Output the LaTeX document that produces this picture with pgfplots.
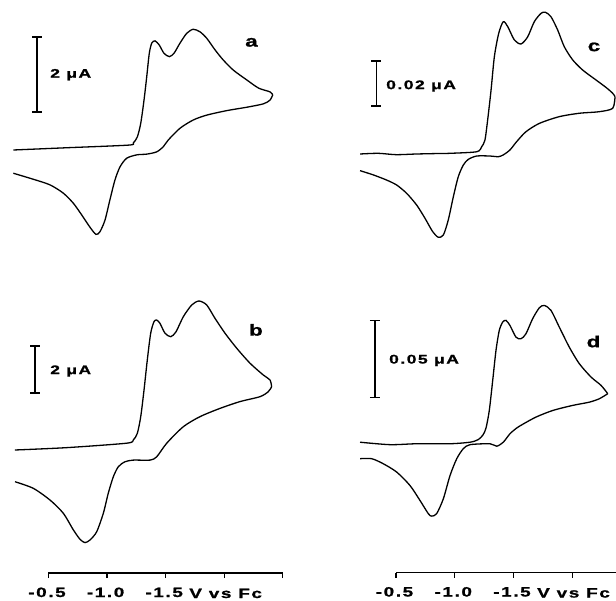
\documentclass[border=0pt]{standalone}
\usepackage{pgfplots}
\pgfplotsset{compat=1.18}
\usepackage{fontspec}
\setmainfont{Liberation Sans}
% wide, heavy, letter-spaced sans for all annotations
\newfontfamily\widesans[UprightFont=* Bold, FakeStretch=1.4, FakeBold=1.2, LetterSpace=12]{Liberation Sans}
\newcommand\ticklab{\widesans\fontsize{13.5}{15}\selectfont}
\newcommand\barlab{\widesans\fontsize{12.5}{14}\selectfont}
\newcommand\panellab{\widesans\fontsize{16}{18}\selectfont}

\tikzset{sbar/.style={black, line width=1.4pt}}
\pgfplotsset{
  cvbase/.style={scale only axis, clip=false, x dir=reverse},
  cvtop/.style={cvbase, axis lines=none},
  cvbottom/.style={cvbase,
    axis x line=bottom, axis y line=none,
    axis line style={-, line width=1.3pt},
    xtick={-0.5,-1,-1.5,-2,-2.5},
    xticklabels={-0.5,-1.0,-1.5,{},{}},
    tick align=outside, major tick length=5pt,
    xtick style={line width=1.2pt, black},
    xticklabel style={font=\ticklab, anchor=base, yshift=-19pt, xshift=-1.5pt},
    ytick=\empty},
  cv/.style={black, line width=1.3pt, smooth, tension=0.45, no marks},
}

\begin{document}
\begin{tikzpicture}[x=1pt,y=1pt]
\path[use as bounding box] (0,0) rectangle (616,600);

% ---------- a ----------
\begin{axis}[cvtop, at={(48.5pt,337.5pt)}, anchor=south west,
  width=234.4pt, height=262.5pt,
  xmin=-2.5, xmax=-0.5, ymin=-3.0, ymax=4.0]
\addplot[cv] coordinates {(-0.200,0) (-0.655,0.06) (-1.181,0.13) (-1.224,0.19) (-1.258,0.35) (-1.287,0.71) (-1.315,1.33) (-1.338,1.95) (-1.360,2.58) (-1.381,2.85) (-1.409,2.91) (-1.445,2.80) (-1.485,2.58) (-1.531,2.49) (-1.571,2.58) (-1.622,2.85) (-1.679,3.11) (-1.735,3.22) (-1.793,3.15) (-1.850,2.98) (-1.921,2.67) (-1.991,2.40) (-2.077,2.13) (-2.191,1.87) (-2.293,1.65) (-2.390,1.55) (-2.413,1.47)};
\addplot[cv] coordinates {(-2.413,1.47) (-2.390,1.33) (-2.333,1.23) (-2.191,1.14) (-2.021,1.05) (-1.850,0.93) (-1.735,0.80) (-1.622,0.58) (-1.523,0.27) (-1.480,0.09) (-1.423,-0.05) (-1.338,-0.11) (-1.253,-0.13) (-1.167,-0.22) (-1.110,-0.45) (-1.067,-0.80) (-1.024,-1.33) (-0.982,-1.87) (-0.939,-2.18) (-0.905,-2.25) (-0.854,-2.06) (-0.783,-1.73) (-0.712,-1.42) (-0.626,-1.15) (-0.513,-0.93) (-0.370,-0.78) (-0.200,-0.62)};
\draw[sbar] (axis cs:-0.402,1.01) -- (axis cs:-0.402,3.01);
\draw[sbar] ([xshift=-5pt]axis cs:-0.402,1.01) -- ([xshift=5pt]axis cs:-0.402,1.01);
\draw[sbar] ([xshift=-5pt]axis cs:-0.402,3.01) -- ([xshift=5pt]axis cs:-0.402,3.01);
\node[anchor=west, font=\barlab, inner sep=0pt] at (axis cs:-0.513,2.01) {2 μA};
\node[font=\panellab, inner sep=0pt] at (axis cs:-2.232,2.87) {a};
\end{axis}

% ---------- b ----------
\begin{axis}[cvbottom, at={(48.5pt,27pt)}, anchor=south west,
  width=234.4pt, height=293pt,
  xmin=-2.5, xmax=-0.5, ymin=-5.234, ymax=7.234]
\addplot[cv] coordinates {(-0.214,0) (-0.655,0.10) (-1.167,0.29) (-1.224,0.43) (-1.258,0.71) (-1.287,1.42) (-1.315,2.55) (-1.343,3.83) (-1.372,4.97) (-1.400,5.46) (-1.423,5.53) (-1.451,5.39) (-1.494,4.97) (-1.543,4.82) (-1.588,5.03) (-1.650,5.67) (-1.722,6.17) (-1.784,6.34) (-1.850,6.17) (-1.921,5.60) (-2.006,4.97) (-2.106,4.33) (-2.220,3.69) (-2.333,3.19) (-2.390,2.98) (-2.404,2.69)};
\addplot[cv] coordinates {(-2.404,2.69) (-2.375,2.48) (-2.305,2.27) (-2.134,2.06) (-1.963,1.77) (-1.793,1.42) (-1.650,0.99) (-1.509,0.29) (-1.423,-0.29) (-1.366,-0.43) (-1.224,-0.43) (-1.153,-0.50) (-1.096,-0.71) (-1.053,-1.14) (-1.010,-1.84) (-0.968,-2.69) (-0.911,-3.48) (-0.854,-3.83) (-0.811,-3.94) (-0.769,-3.80) (-0.712,-3.40) (-0.626,-2.69) (-0.513,-2.13) (-0.370,-1.63) (-0.214,-1.35)};
\draw[sbar] (axis cs:-0.385,2.43) -- (axis cs:-0.385,4.43);
\draw[sbar] ([xshift=-5pt]axis cs:-0.385,2.43) -- ([xshift=5pt]axis cs:-0.385,2.43);
\draw[sbar] ([xshift=-5pt]axis cs:-0.385,4.43) -- ([xshift=5pt]axis cs:-0.385,4.43);
\node[anchor=west, font=\barlab, inner sep=0pt] at (axis cs:-0.513,3.36) {2 μA};
\node[font=\panellab, inner sep=0pt] at (axis cs:-2.270,5.11) {b};
\node[anchor=base west, font=\ticklab, inner sep=0pt, yshift=-25pt] at (axis cs:-1.70,-5.234) {V vs Fc};
\end{axis}

% ---------- c ----------
\begin{axis}[cvtop, at={(396pt,338pt)}, anchor=south west,
  width=220pt, height=261.9pt,
  xmin=-2.3723, xmax=-0.5, ymin=-0.048, ymax=0.0684]
\addplot[cv] coordinates {(-0.194,0.0000) (-0.350,0.0003) (-0.500,-0.0003) (-0.676,0.0000) (-0.850,0.0002) (-0.960,0.0003) (-1.187,0.0010) (-1.229,0.0032) (-1.257,0.0062) (-1.280,0.0151) (-1.309,0.0284) (-1.337,0.0432) (-1.374,0.0536) (-1.413,0.0588) (-1.451,0.0566) (-1.507,0.0507) (-1.564,0.0489) (-1.621,0.0521) (-1.677,0.0588) (-1.734,0.0625) (-1.771,0.0630) (-1.819,0.0610) (-1.876,0.0551) (-1.932,0.0477) (-2.004,0.0418) (-2.089,0.0373) (-2.202,0.0329) (-2.287,0.0296) (-2.344,0.0270) (-2.364,0.0255)};
\addplot[cv] coordinates {(-2.364,0.0255) (-2.344,0.0203) (-2.230,0.0188) (-2.060,0.0181) (-1.890,0.0166) (-1.720,0.0136) (-1.606,0.0099) (-1.527,0.0055) (-1.470,0.0018) (-1.413,-0.0004) (-1.371,-0.0012) (-1.300,-0.0009) (-1.187,-0.0009) (-1.115,-0.0024) (-1.073,-0.0049) (-1.030,-0.0101) (-0.988,-0.0190) (-0.945,-0.0293) (-0.903,-0.0360) (-0.860,-0.0370) (-0.812,-0.0345) (-0.747,-0.0286) (-0.676,-0.0227) (-0.591,-0.0175) (-0.506,-0.0138) (-0.421,-0.0116) (-0.307,-0.0093) (-0.194,-0.0074)};
\draw[sbar] (axis cs:-0.334,0.0213) -- (axis cs:-0.334,0.0413);
\draw[sbar] ([xshift=-5pt]axis cs:-0.334,0.0213) -- ([xshift=5pt]axis cs:-0.334,0.0213);
\draw[sbar] ([xshift=-5pt]axis cs:-0.334,0.0413) -- ([xshift=5pt]axis cs:-0.334,0.0413);
\node[anchor=west, font=\barlab, inner sep=0pt] at (axis cs:-0.415,0.0302) {0.02 μA};
\node[font=\panellab, inner sep=0pt] at (axis cs:-2.185,0.0476) {c};
\end{axis}

% ---------- d ----------
\begin{axis}[cvbottom, at={(396pt,27.5pt)}, anchor=south west,
  width=220pt, height=292pt,
  xmin=-2.3723, xmax=-0.5, ymin=-0.0838, ymax=0.1058]
\addplot[cv] coordinates {(-0.194,0.0008) (-0.449,-0.0008) (-0.676,-0.0002) (-0.960,-0.0002) (-1.130,0.0008) (-1.200,0.0025) (-1.240,0.0055) (-1.266,0.0100) (-1.294,0.0214) (-1.323,0.0409) (-1.351,0.0604) (-1.379,0.0734) (-1.408,0.0788) (-1.436,0.0799) (-1.470,0.0766) (-1.521,0.0690) (-1.564,0.0680) (-1.606,0.0712) (-1.663,0.0810) (-1.720,0.0881) (-1.762,0.0896) (-1.819,0.0864) (-1.890,0.0755) (-1.975,0.0625) (-2.060,0.0518) (-2.160,0.0431) (-2.245,0.0377) (-2.302,0.0323)};
\addplot[cv] coordinates {(-2.302,0.0323) (-2.230,0.0290) (-2.145,0.0268) (-2.004,0.0247) (-1.834,0.0214) (-1.691,0.0171) (-1.580,0.0125) (-1.527,0.0100) (-1.470,0.0063) (-1.413,0.0008) (-1.357,-0.0018) (-1.300,-0.0002) (-1.130,-0.0008) (-1.073,-0.0034) (-1.017,-0.0099) (-0.960,-0.0208) (-0.903,-0.0359) (-0.846,-0.0456) (-0.804,-0.0472) (-0.775,-0.0456) (-0.704,-0.0370) (-0.619,-0.0273) (-0.506,-0.0186) (-0.392,-0.0132) (-0.293,-0.0099) (-0.194,-0.0099)};
\draw[sbar] (axis cs:-0.321,0.0299) -- (axis cs:-0.321,0.0799);
\draw[sbar] ([xshift=-5pt]axis cs:-0.321,0.0299) -- ([xshift=5pt]axis cs:-0.321,0.0299);
\draw[sbar] ([xshift=-5pt]axis cs:-0.321,0.0799) -- ([xshift=5pt]axis cs:-0.321,0.0799);
\node[anchor=west, font=\barlab, inner sep=0pt] at (axis cs:-0.440,0.0539) {0.05 μA};
\node[font=\panellab, inner sep=0pt] at (axis cs:-2.181,0.0662) {d};
\node[anchor=base west, font=\ticklab, inner sep=0pt, yshift=-25pt] at (axis cs:-1.70,-0.0838) {V vs Fc};
\end{axis}
\end{tikzpicture}
\end{document}
